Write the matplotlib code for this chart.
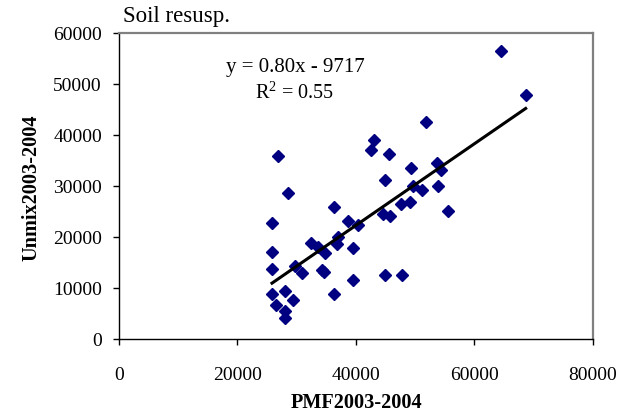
import numpy as np
import matplotlib
matplotlib.use("Agg")
import matplotlib.pyplot as plt

# values
pmf = [64540, 68710, 51820, 45560, 49340, 53780, 54450, 44890, 49720, 51240,
       53850, 47600, 49110, 55640, 44650, 45840, 42630, 43130, 26810, 28550,
       25850, 36330, 38640, 40430, 25850, 32390, 33670, 34800, 37050, 36880,
       39530, 25850, 29790, 30970, 34250, 34640, 39530, 44940, 47860, 25850,
       28000, 29450, 36330, 26530, 28000, 28000]
unmix = [56580, 47890, 42590, 36310, 33620, 34480, 33110, 31150, 30090, 29300,
         30090, 26560, 26890, 25120, 24480, 24080, 37100, 39060, 35980, 28710,
         22770, 25850, 23160, 22380, 17080, 18900, 18000, 16820, 19960, 18590,
         17860, 13680, 14390, 12900, 13540, 13090, 11640, 12620, 12620, 8770,
         9420, 7650, 8770, 6670, 5560, 4120]

slope = 0.80
intercept = -9717
eq_text = "y = 0.80x - 9717"
r2_text = "R$^2$ = 0.55"

xticks = [0, 20000, 40000, 60000, 80000]
yticks = [0, 10000, 20000, 30000, 40000, 50000, 60000]

plt.rcParams['font.family'] = ['Liberation Serif', 'DejaVu Serif']
plt.rcParams['mathtext.fontset'] = 'custom'
plt.rcParams['mathtext.rm'] = 'Liberation Serif'

fig = plt.figure(figsize=(6.3, 4.19), dpi=100)
ax = fig.add_axes([119 / 630, 1 - 339 / 419, 473.5 / 630, 305.7 / 419])

ax.plot(pmf, unmix, linestyle='none', marker='D', markersize=5.8,
        color='#000080', markeredgecolor='#000080', zorder=3)

xl = np.array([min(pmf), max(pmf)])
ax.plot(xl, slope * xl + intercept, color='black', linewidth=2.2, zorder=4)

ax.set_xlim(0, 80000)
ax.set_ylim(0, 60000)
ax.set_xticks(xticks)
ax.set_yticks(yticks)
ax.tick_params(axis='both', direction='out', length=4.3, width=1,
               labelsize=14, colors='black')
ax.tick_params(axis='y', pad=8)
ax.tick_params(axis='x', pad=16)

for s in ['top', 'right']:
    ax.spines[s].set_color('#808080')
    ax.spines[s].set_linewidth(1.6)
for s in ['left', 'bottom']:
    ax.spines[s].set_color('black')
    ax.spines[s].set_linewidth(1.0)

ax.text(0.3717, 0.8865, eq_text, transform=ax.transAxes, ha='center',
        va='center', fontsize=15)
ax.text(0.3717, 0.8047, r2_text, transform=ax.transAxes, ha='center',
        va='center', fontsize=14.5)

fig.text(32 / 630, 1 - 188 / 419, "Unmix2003-2004", rotation=90,
         ha='center', va='center', fontsize=14.6, fontweight='bold')
fig.text(357 / 630, 1 - 403 / 419, "PMF2003-2004", ha='center',
         va='center', fontsize=14.6, fontweight='bold')
fig.text(123 / 630, 1 - 22 / 419, "Soil resusp.", ha='left', va='baseline',
         fontsize=16.5)

fig.savefig("out.png", dpi=100)
